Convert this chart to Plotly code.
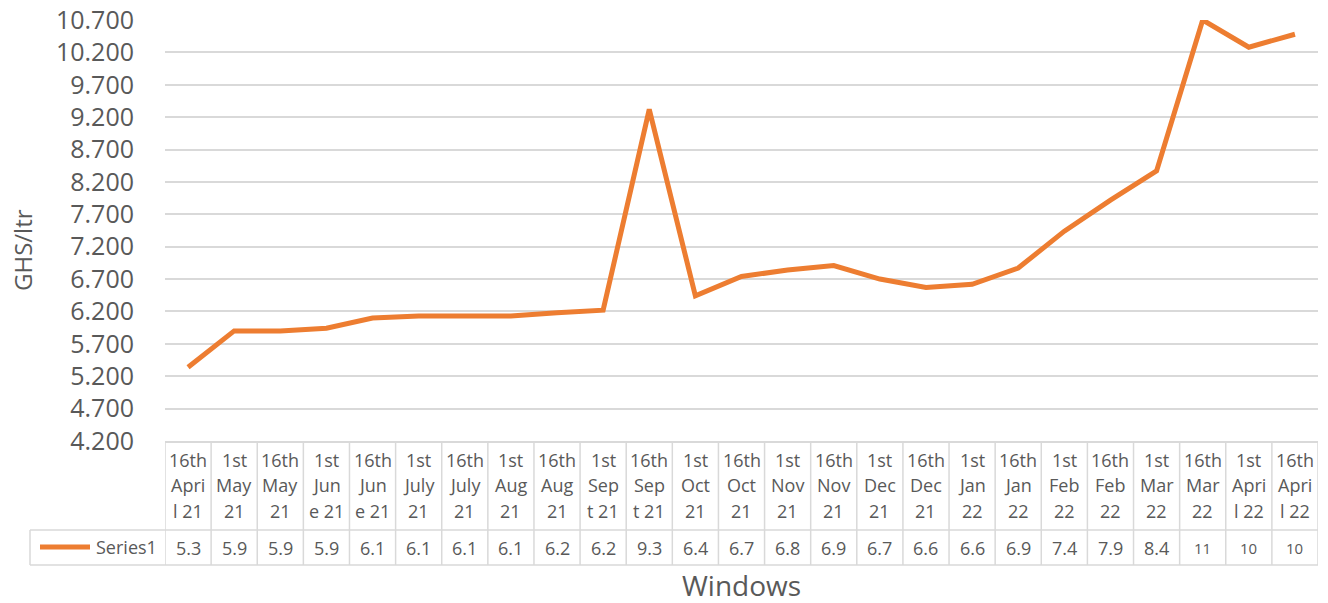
import plotly.graph_objects as go

# ---- data ----
categories = ["16th April 21", "1st May 21", "16th May 21", "1st June 21", "16th June 21",
              "1st July 21", "16th July 21", "1st Aug 21", "16th Aug 21", "1st Sept 21",
              "16th Sept 21", "1st Oct 21", "16th Oct 21", "1st Nov 21", "16th Nov 21",
              "1st Dec 21", "16th Dec 21", "1st Jan 22", "16th Jan 22", "1st Feb 22",
              "16th Feb 22", "1st Mar 22", "16th Mar 22", "1st April 22", "16th April 22"]
header_lines = [
    ("16th", "Apri", "l 21"), ("1st", "May", "21"), ("16th", "May", "21"), ("1st", "Jun", "e 21"),
    ("16th", "Jun", "e 21"), ("1st", "July", "21"), ("16th", "July", "21"), ("1st", "Aug", "21"),
    ("16th", "Aug", "21"), ("1st", "Sep", "t 21"), ("16th", "Sep", "t 21"), ("1st", "Oct", "21"),
    ("16th", "Oct", "21"), ("1st", "Nov", "21"), ("16th", "Nov", "21"), ("1st", "Dec", "21"),
    ("16th", "Dec", "21"), ("1st", "Jan", "22"), ("16th", "Jan", "22"), ("1st", "Feb", "22"),
    ("16th", "Feb", "22"), ("1st", "Mar", "22"), ("16th", "Mar", "22"), ("1st", "Apri", "l 22"),
    ("16th", "Apri", "l 22")]
series1 = [5.34, 5.90, 5.90, 5.94, 6.10, 6.13, 6.13, 6.13, 6.18, 6.22, 9.32, 6.44, 6.74,
           6.84, 6.91, 6.70, 6.57, 6.62, 6.87, 7.44, 7.92, 8.37, 10.70, 10.28, 10.48]
table_text = ["5.3", "5.9", "5.9", "5.9", "6.1", "6.1", "6.1", "6.1", "6.2", "6.2", "9.3", "6.4",
              "6.7", "6.8", "6.9", "6.7", "6.6", "6.6", "6.9", "7.4", "7.9", "8.4", "11", "10", "10"]
y_ticks = [4.2 + 0.5 * i for i in range(14)]
y_ticktext = ["%.3f" % v for v in y_ticks]

# ---- layout constants (pixels) ----
W, H = 1328, 603
ML, MR, MT, MB = 165, 10, 20, 162
PW, PH = W - ML - MR, H - MT - MB
TXT = "#595959"
GRID = "#D9D9D9"
ORANGE = "#ED7D31"
FONT = "Open Sans"

def py(p):  # pixel y -> paper y
    return (H - MB - p) / PH

def px(p):  # pixel x -> paper x
    return (p - ML) / PW

n = len(categories)
xs = list(range(n))

fig = go.Figure()
fig.add_trace(go.Scatter(x=xs, y=series1, mode="lines", name="Series1",
                         line=dict(color=ORANGE, width=5), showlegend=False))

shapes = []
annotations = []
# table horizontal lines
for p in (530, 565):
    shapes.append(dict(type="line", xref="paper", yref="paper", x0=px(30), x1=1,
                       y0=py(p), y1=py(p), line=dict(color=GRID, width=1.5)))
# left border of legend cell
shapes.append(dict(type="line", xref="paper", yref="paper", x0=px(30), x1=px(30),
                   y0=py(530), y1=py(565), line=dict(color=GRID, width=1.5)))
# vertical column lines at category boundaries
for i in range(n + 1):
    shapes.append(dict(type="line", xref="x", yref="paper", x0=i - 0.5, x1=i - 0.5,
                       y0=0, y1=py(565), line=dict(color=GRID, width=1.5)))
# legend sample line
shapes.append(dict(type="line", xref="paper", yref="paper", x0=px(40), x1=px(90),
                   y0=py(547), y1=py(547), line=dict(color=ORANGE, width=5)))
annotations.append(dict(xref="paper", yref="paper", x=px(94), y=py(547), text="Series1",
                        showarrow=False, xanchor="left", yanchor="middle",
                        font=dict(family=FONT, size=18, color=TXT)))

line_y = [460, 485, 511]
for i, lines in enumerate(header_lines):
    for j, t in enumerate(lines):
        annotations.append(dict(xref="x", yref="paper", x=i, y=py(line_y[j]), text=t,
                                showarrow=False, xanchor="center", yanchor="middle",
                                font=dict(family=FONT, size=18, color=TXT)))
    annotations.append(dict(xref="x", yref="paper", x=i, y=py(548), text=table_text[i],
                            showarrow=False, xanchor="center", yanchor="middle",
                            font=dict(family=FONT, size=18 if len(table_text[i]) > 2 else 15,
                                      color=TXT)))

annotations.append(dict(xref="paper", yref="paper", x=0.5, y=py(585), text="Windows",
                        showarrow=False, xanchor="center", yanchor="middle",
                        font=dict(family=FONT, size=28, color=TXT)))
annotations.append(dict(xref="paper", yref="paper", x=px(22), y=py(250), text="GHS/ltr",
                        showarrow=False, xanchor="center", yanchor="middle", textangle=-90,
                        font=dict(family=FONT, size=24, color=TXT)))

fig.update_layout(
    width=W, height=H,
    margin=dict(l=ML, r=MR, t=MT, b=MB, autoexpand=False),
    plot_bgcolor="white", paper_bgcolor="white",
    shapes=shapes, annotations=annotations,
    xaxis=dict(range=[-0.5, n - 0.5], showticklabels=False, showgrid=False, zeroline=False,
               showline=True, linecolor=GRID, linewidth=1.5, ticks="", automargin=False),
    yaxis=dict(range=[4.2, 10.7], tickvals=y_ticks, ticktext=y_ticktext, showgrid=True,
               gridcolor=GRID, gridwidth=1.5, zeroline=False, showline=False,
               tickfont=dict(family=FONT, size=25, color=TXT), ticklabelstandoff=30,
               automargin=False),
)
fig.write_html("out.html", config={"displayModeBar": False},
               post_script="document.body.style.margin='0';document.body.style.overflow='hidden';")
